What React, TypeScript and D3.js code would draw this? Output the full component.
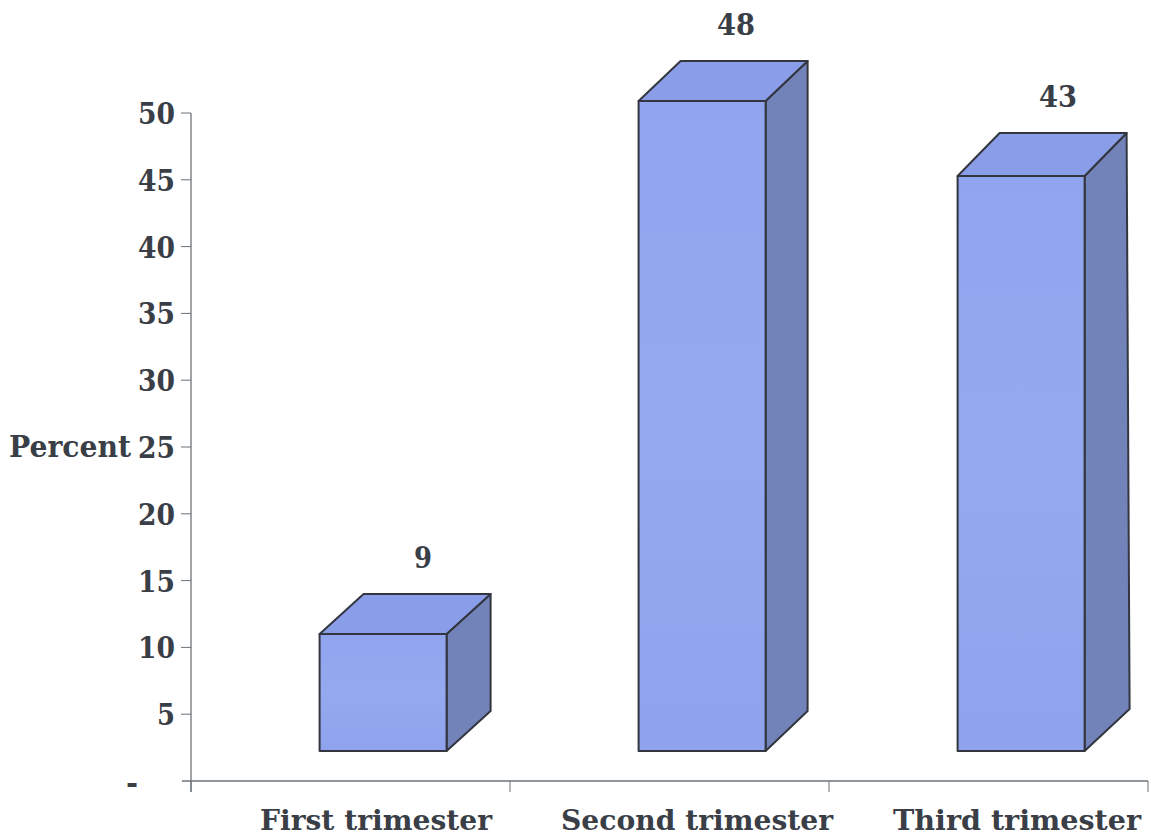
import React from "react";
import * as d3 from "d3";

const categories = ["First trimester", "Second trimester", "Third trimester"];
const valueLabels = ["9", "48", "43"];
const barTops = [11.0, 50.9, 45.28];
const barBase = 2.25;
const yTicks = [5, 10, 15, 20, 25, 30, 35, 40, 45, 50];

const W = 1151, H = 838;
const TEXT = "#3a3e47";
const AXIS = "#6d7378";
const FONT = "'DejaVu Serif', serif";

export default function App() {
  const y = d3.scaleLinear().domain([0, 50]).range([781, 113]);
  const x = d3.scaleBand<string>().domain(categories).range([191, 1148]);
  const bw = 127, offset = 128.6;
  const dxTop = [44, 42, 42], dxBottom = [44, 42, 45], depthY = [40, 40, 43], depthYBottom = [40, 40, 42];
  const labelX = [423, 736, 1058];
  const catCenters = [376, 697, 1017];
  const catWidths = [232, 272, 248];
  const tickXs = [...categories.map((c) => x(c) as number), 1148];
  const path = d3.line();
  return (
    <svg width={W} height={H} style={{ position: "absolute", left: 0, top: 0, background: "#fff" }}>
      <defs>
        <linearGradient id="front" x1="0" y1="0" x2="0" y2="1">
          <stop offset="0" stopColor="#90a5ee" />
          <stop offset="0.5" stopColor="#95a9f0" />
          <stop offset="1" stopColor="#8ea3ec" />
        </linearGradient>
      </defs>
      <line x1={191} x2={191} y1={y(50)} y2={792} stroke={AXIS} strokeWidth={1.3} />
      <line x1={182} x2={1148} y1={781} y2={781} stroke={AXIS} strokeWidth={1.3} />
      {yTicks.map((t) => (
        <g key={t}>
          <line x1={181} x2={191} y1={y(t)} y2={y(t)} stroke={AXIS} strokeWidth={1} />
          <text x={175} y={y(t) + 11} textAnchor="end" fontFamily={FONT} fontWeight={700} fontSize={30} fill={TEXT} textLength={t < 10 ? 18 : 37} lengthAdjust="spacingAndGlyphs">{t}</text>
        </g>
      ))}
      <text x={138} y={793} textAnchor="end" fontFamily={FONT} fontWeight={700} fontSize={29} fill={TEXT}>-</text>
      {tickXs.map((t, i) => (
        <line key={i} x1={t} x2={t} y1={781} y2={792} stroke={AXIS} strokeWidth={1} />
      ))}
      <text x={70} y={457} textAnchor="middle" fontFamily={FONT} fontWeight={700} fontSize={30} fill={TEXT} textLength={122} lengthAdjust="spacingAndGlyphs">Percent</text>
      {categories.map((c, i) => {
        const l = (x(c) as number) + offset;
        const r = l + bw;
        const t = y(barTops[i]);
        const b = y(barBase);
        const dx = dxTop[i], dy = depthY[i];
        const P = (pts: [number, number][]) => path(pts) + "Z";
        return (
          <g key={c} stroke="#33363f" strokeWidth={2} strokeLinejoin="round">
            <path d={P([[r, t], [r + dx, t - dy], [r + dxBottom[i], b - depthYBottom[i]], [r, b]])} fill="#7283ba" />
            <path d={P([[l, t], [l + dx, t - dy], [r + dx, t - dy], [r, t]])} fill="#8a9de8" />
            <rect x={l} y={t} width={bw} height={b - t} fill="url(#front)" />
            <text x={labelX[i]} y={t - dy - 26} textAnchor="middle" stroke="none" fontFamily={FONT} fontWeight={700} fontSize={30} fill={TEXT} textLength={i === 0 ? 18 : 38} lengthAdjust="spacingAndGlyphs">{valueLabels[i]}</text>
            <text x={catCenters[i]} y={830} textAnchor="middle" stroke="none" fontFamily={FONT} fontWeight={700} fontSize={28.5} fill={TEXT} textLength={catWidths[i]} lengthAdjust="spacingAndGlyphs">{c}</text>
          </g>
        );
      })}
    </svg>
  );
}
